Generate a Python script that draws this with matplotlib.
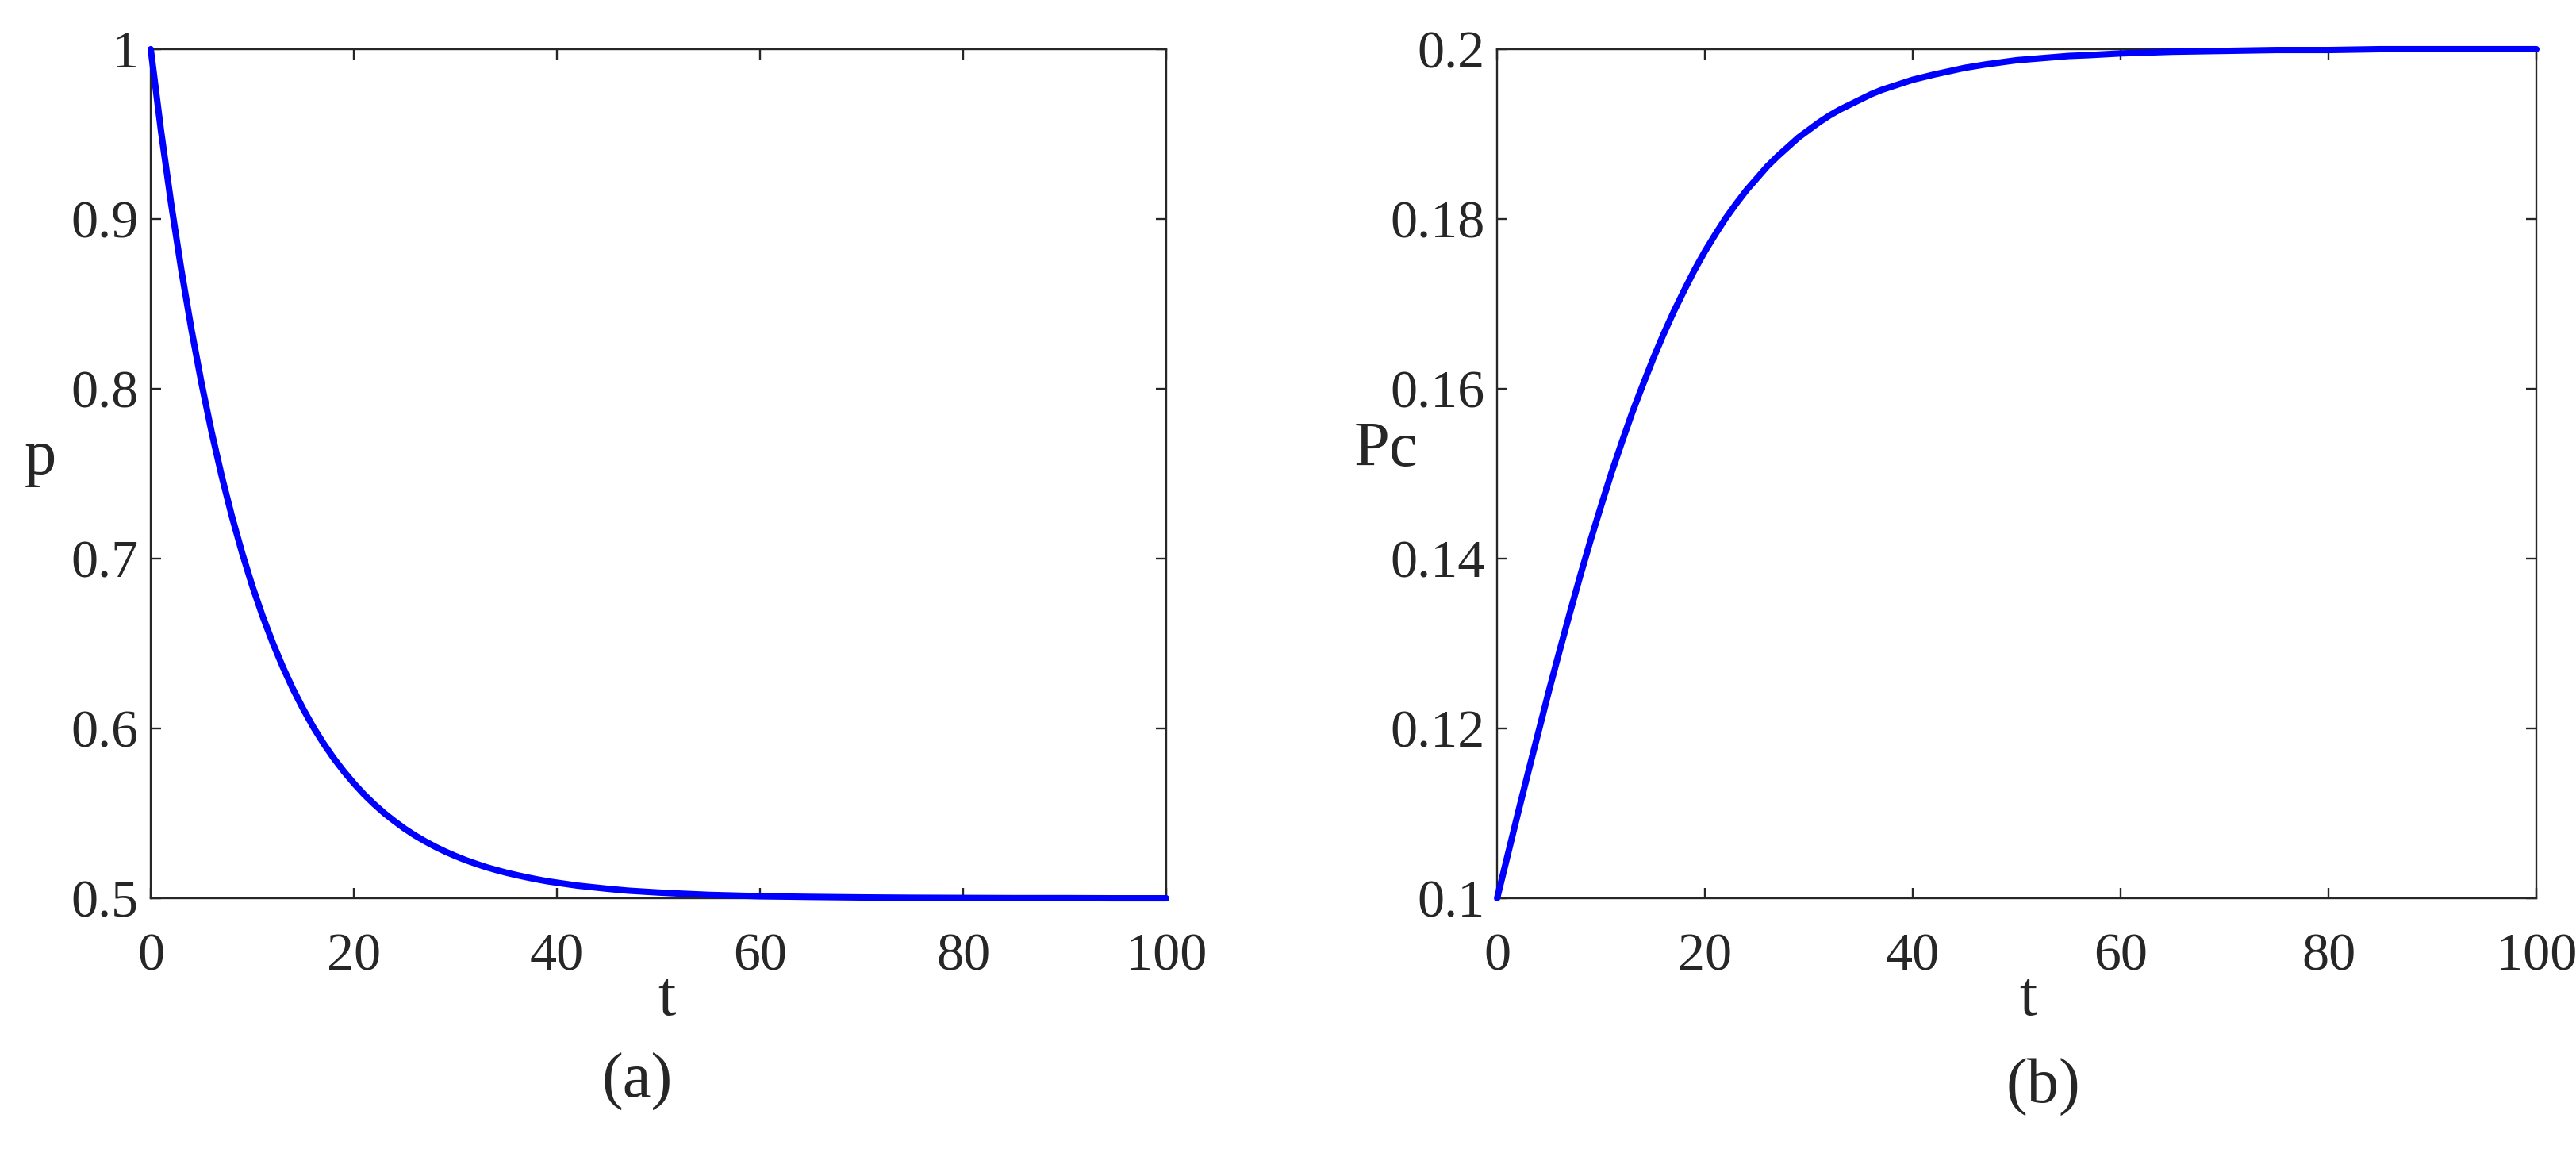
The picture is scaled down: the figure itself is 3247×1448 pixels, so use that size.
import matplotlib
matplotlib.use('Agg')
import matplotlib.pyplot as plt

# values
t = [0, 1, 2, 3, 4, 5, 6, 7, 8, 9, 10, 11, 12, 13, 14, 15, 16, 17, 18, 19,
     20, 21, 22, 23, 24, 25, 26, 27, 28, 29, 30, 31, 32, 33, 34, 35, 36, 37,
     38, 39, 40, 42, 45, 47, 50, 52, 55, 57, 60, 65, 70, 75, 80, 85, 90, 95,
     100]
p = [1.0, 0.9524, 0.9094, 0.8704, 0.8352, 0.8033, 0.7744, 0.7483, 0.7247,
     0.7033, 0.6839, 0.6664, 0.6506, 0.6363, 0.6233, 0.6116, 0.6009, 0.5913,
     0.5826, 0.5748, 0.5677, 0.5612, 0.5554, 0.5501, 0.5454, 0.5410, 0.5371,
     0.5336, 0.5304, 0.5275, 0.5249, 0.5225, 0.5204, 0.5184, 0.5167, 0.5151,
     0.5137, 0.5124, 0.5112, 0.5101, 0.5092, 0.5075, 0.5056, 0.5045, 0.5034,
     0.5028, 0.5020, 0.5017, 0.5012, 0.5008, 0.5005, 0.5003, 0.5002, 0.5001,
     0.5001, 0.5, 0.5]
pc = [0.1, 0.1050, 0.1100, 0.1149, 0.1197, 0.1245, 0.1291, 0.1336, 0.1380,
      0.1422, 0.1462, 0.1501, 0.1537, 0.1572, 0.1604, 0.1635, 0.1664, 0.1691,
      0.1716, 0.1740, 0.1762, 0.1782, 0.1801, 0.1818, 0.1834, 0.1848, 0.1862,
      0.1874, 0.1885, 0.1896, 0.1905, 0.1914, 0.1922, 0.1929, 0.1935, 0.1941,
      0.1947, 0.1952, 0.1956, 0.1960, 0.1964, 0.1970, 0.1978, 0.1982, 0.1987,
      0.1989, 0.1992, 0.1993, 0.1995, 0.1997, 0.1998, 0.1999, 0.1999, 0.2,
      0.2, 0.2, 0.2]

xticks = [0, 20, 40, 60, 80, 100]
p_ticks = [0.5, 0.6, 0.7, 0.8, 0.9, 1.0]
p_ticklabels = ['0.5', '0.6', '0.7', '0.8', '0.9', '1']
pc_ticks = [0.1, 0.12, 0.14, 0.16, 0.18, 0.2]
pc_ticklabels = ['0.1', '0.12', '0.14', '0.16', '0.18', '0.2']

ink = '#262626'
plt.rcParams['font.family'] = ['Liberation Serif', 'DejaVu Serif']

fig = plt.figure(figsize=(32.48, 14.48), dpi=100)
ax1 = fig.add_axes([0.0585, 0.2182, 0.3941, 0.739])
ax2 = fig.add_axes([0.581, 0.2182, 0.4033, 0.739])


def style(ax, yticks, ylabels, ylim):
    ax.set_xlim(0, 100)
    ax.set_ylim(*ylim)
    ax.set_xticks(xticks)
    ax.set_xticklabels([str(v) for v in xticks])
    ax.set_yticks(yticks)
    ax.set_yticklabels(ylabels)
    ax.tick_params(direction='in', length=9.5, width=1.7, colors=ink,
                   labelsize=49, top=True, right=True)
    ax.tick_params(axis='x', pad=31)
    ax.tick_params(axis='y', pad=11)
    for s in ax.spines.values():
        s.set_linewidth(1.7)
        s.set_color(ink)


ax1.plot(t, p, color='#0000ff', lw=5.8, solid_capstyle='round',
         solid_joinstyle='round', clip_on=False, zorder=5)
style(ax1, p_ticks, p_ticklabels, (0.5, 1.0))
ax1.set_xlabel('t', fontsize=58, color=ink, va='baseline')
ax1.xaxis.set_label_coords(0.508, -0.137)
ax1.set_ylabel('p', fontsize=58, color=ink, rotation=0, ha='center', va='baseline')
ax1.yaxis.set_label_coords(-0.109, 0.5)

ax2.plot(t, pc, color='#0000ff', lw=5.8, solid_capstyle='round',
         solid_joinstyle='round', clip_on=False, zorder=5)
style(ax2, pc_ticks, pc_ticklabels, (0.1, 0.2))
ax2.set_xlabel('t', fontsize=58, color=ink, va='baseline')
ax2.xaxis.set_label_coords(0.511, -0.137)
ax2.set_ylabel('Pc', fontsize=58, color=ink, rotation=0, ha='center', va='baseline')
ax2.yaxis.set_label_coords(-0.107, 0.509)

fig.text(0.2472, 0.0449, '(a)', fontsize=58, color=ink, ha='center', va='baseline')
fig.text(0.7928, 0.040, '(b)', fontsize=58, color=ink, ha='center', va='baseline')

fig.savefig('out.png', dpi=100, facecolor='white')
